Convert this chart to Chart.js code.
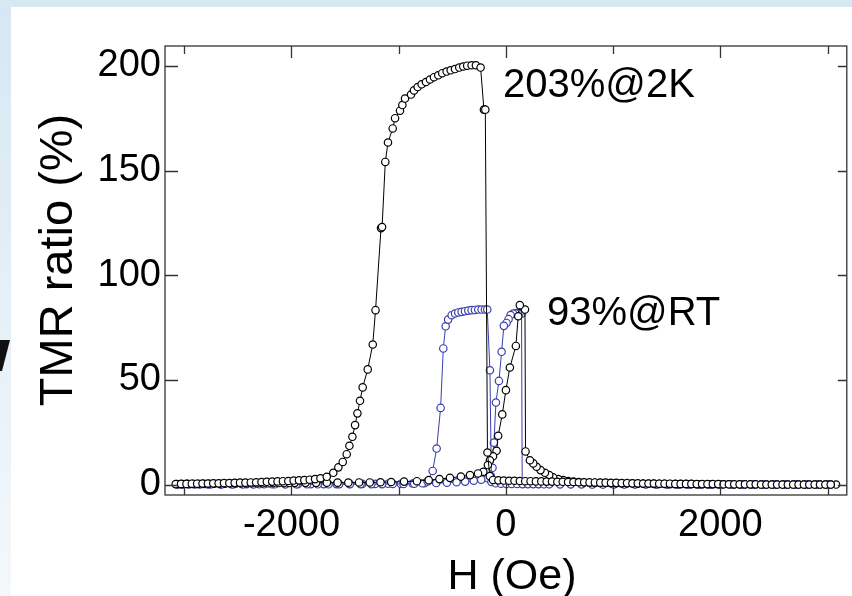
<!DOCTYPE html>
<html>
<head>
<meta charset="utf-8">
<script src="https://cdn.jsdelivr.net/npm/chart.js@4/dist/chart.umd.min.js"></script>
<style>
  html, body { margin: 0; padding: 0; background: #fff; }
  #wrap { width: 852px; height: 596px; position: relative; }
</style>
</head>
<body>
<div id="wrap"><canvas id="c" width="852" height="596"></canvas></div>
<script>
// ---- 2 K, field swept upward (Oe, %) ----
const h2kUp = [-3080,-3030,-2980,-2930,-2880,-2830,-2780,-2730,-2680,-2630,-2580,-2530,-2480,-2430,-2380,-2330,-2280,-2230,-2180,-2130,-2080,-2030,-1980,-1930,-1880,-1830,-1780,-1730,-1671,-1610,-1563,-1522,-1485,-1460,-1432,-1407,-1385,-1361,-1336,-1289,-1242,-1216,-1165,-1155,-1125,-1100,-1056,-1034,-988,-966,-941,-885,-857,-823,-786,-746,-708,-671,-631,-594,-553,-515,-475,-435,-398,-361,-320,-280,-236,-205,-192,-172,-150,-120,-70,-20,30,80,130,180,230,280,330,380,430,480,530,580,630,680,730,780,830,880,930,980,1030,1080,1130,1180,1230,1280,1330,1380,1430,1480,1530,1580,1630,1680,1730,1780,1830,1880,1930,1980,2030,2080,2130,2180,2230,2280,2330,2380,2430,2480,2530,2580,2630,2680,2730,2780,2830,2880,2930,2980,3030,3080];
const tmr2kUp = [0.2,0.3,0.3,0.4,0.4,0.5,0.5,0.6,0.6,0.7,0.7,0.8,0.9,0.9,1.0,1.1,1.2,1.3,1.4,1.5,1.6,1.7,1.9,2.0,2.1,2.3,2.6,3.0,3.7,5.6,8.2,10.8,14.5,18.5,22.8,28.4,34.0,40.0,46.4,55.0,66.9,83.3,122.5,123.0,154.1,163.4,170.1,175.0,178.6,181.3,184.4,186.3,188.3,189.9,191.2,192.3,193.5,194.6,195.5,196.5,197.3,197.9,198.5,199.2,199.7,200.1,200.3,200.3,199.2,179.1,179.1,15.3,4.0,2.2,2.0,1.9,1.8,1.8,1.7,1.6,1.6,1.5,1.5,1.4,1.4,1.3,1.3,1.2,1.2,1.1,1.1,1.0,1.0,0.9,0.9,0.8,0.8,0.7,0.7,0.6,0.6,0.5,0.5,0.5,0.4,0.4,0.4,0.3,0.3,0.3,0.3,0.2,0.2,0.2,0.2,0.2,0.1,0.1,0.1,0.1,0.1,0.1,0.1,0.0,0.0,0.0,0.0,0.0,0.0,0.0,0.0,0.0,0.0,0.0,0.0,0.0,0.0];

// ---- 2 K, field swept downward ----
const h2kDown = [3080,3030,2980,2930,2880,2830,2780,2730,2680,2630,2580,2530,2480,2430,2380,2330,2280,2230,2180,2130,2080,2030,1980,1930,1880,1830,1780,1730,1680,1630,1580,1530,1480,1430,1380,1330,1280,1230,1180,1130,1080,1030,980,930,880,830,780,730,680,630,580,534,488,441,404,364,323,286,255,224,183,178,130,115,93,37,0,-34,-72,-87,-120,-149,-168,-211,-260,-335,-420,-522,-620,-720,-830,-950,-1070,-1170,-1270,-1370,-1470,-1570,-1670,-1770,-1870,-1970,-2020,-2070,-2120,-2170,-2220,-2270,-2320,-2370,-2420,-2470,-2520,-2570,-2620,-2670,-2720,-2770,-2820,-2870,-2920,-2970,-3020,-3070];
const tmr2kDown = [0.0,0.0,0.0,0.0,0.0,0.0,0.0,0.0,0.0,0.0,0.0,0.0,0.0,0.0,0.0,0.0,0.0,0.0,0.0,0.0,0.1,0.1,0.1,0.1,0.1,0.1,0.1,0.2,0.2,0.2,0.2,0.2,0.3,0.3,0.3,0.4,0.4,0.4,0.5,0.5,0.5,0.6,0.6,0.7,0.7,0.8,0.9,1.0,1.2,1.4,1.7,2.1,2.6,3.4,4.5,5.6,6.9,8.5,10.1,11.6,15.8,83.6,85.7,80.4,66.2,55.9,45.1,33.5,23.3,16.1,13.5,11.6,9.3,6.1,5.3,4.5,3.8,3.2,2.6,2.1,1.6,1.4,1.2,1.1,1.0,1.0,0.9,0.9,0.9,0.8,0.8,0.8,0.7,0.7,0.7,0.7,0.6,0.6,0.6,0.6,0.5,0.5,0.5,0.5,0.4,0.4,0.4,0.4,0.3,0.3,0.3,0.3,0.2,0.2];

// ---- room temperature, field swept upward ----
const hRtUp = [-3055,-2955,-2855,-2755,-2655,-2555,-2455,-2355,-2255,-2155,-2055,-1955,-1855,-1755,-1655,-1555,-1455,-1355,-1255,-1155,-1055,-955,-855,-780,-730,-683,-646,-609,-584,-562,-539,-506,-475,-444,-413,-382,-351,-320,-289,-258,-227,-196,-174,-149,-135,-95,-45,5,55,105,155,205,255,305,355,405,505,605,705,805,905,1005,1105,1205,1305,1405,1505,1605,1705,1805,1905,2005,2105,2205,2305,2405,2505,2605,2705,2805,2905,3005];
const tmrRtUp = [0.0,0.0,0.0,0.0,0.0,0.0,0.0,0.0,0.1,0.1,0.1,0.1,0.1,0.1,0.1,0.2,0.2,0.2,0.2,0.2,0.3,0.3,0.4,0.6,1.5,6.5,17.2,36.6,65.0,75.6,78.8,80.9,81.7,82.2,82.5,82.8,83.1,83.3,83.4,83.6,83.6,83.6,83.6,54.6,1.2,0.6,0.4,0.3,0.3,0.3,0.2,0.2,0.2,0.2,0.1,0.1,0.1,0.1,0.1,0.0,0.0,0.0,0.0,0.0,0.0,0.0,0.0,0.0,0.0,0.0,0.0,0.0,0.0,0.0,0.0,0.0,0.0,0.0,0.0,0.0,0.0,0.0];

// ---- room temperature, field swept downward ----
const hRtDown = [3005,2905,2805,2705,2605,2505,2405,2305,2205,2105,2005,1905,1805,1705,1605,1505,1405,1305,1205,1105,1005,905,805,705,605,505,405,305,205,152,146,128,110,90,68,44,25,6,-19,-40,-65,-93,-112,-125,-140,-170,-230,-300,-380,-460,-550,-650,-760,-870,-980,-1100,-1220,-1340,-1460,-1580,-1700,-1820,-1940,-2060,-2180,-2300,-2420,-2540,-2660,-2780,-2900,-3020];
const tmrRtDown = [0.0,0.0,0.0,0.0,0.0,0.0,0.0,0.0,0.0,0.0,0.0,0.0,0.0,0.0,0.0,0.0,0.0,0.1,0.1,0.1,0.1,0.1,0.1,0.2,0.2,0.2,0.3,0.3,0.4,0.5,81.6,82.0,82.0,81.8,81.7,81.0,79.0,77.2,75.8,63.4,49.5,39.2,20.0,8.0,4.0,3.0,2.3,1.8,1.4,1.1,0.9,0.7,0.6,0.5,0.4,0.4,0.3,0.3,0.3,0.2,0.2,0.2,0.2,0.1,0.1,0.1,0.1,0.1,0.0,0.0,0.0,0.0];

// ---- axis ticks ----
const xTickValues = [-3000, -2000, -1000, 0, 1000, 2000, 3000];
const xTickLabels = ['', '-2000', '', '0', '', '2000', ''];
const yTickValues = [0, 50, 100, 150, 200];
const yTickLabels = ['0', '50', '100', '150', '200'];

const FONT = '"Liberation Sans", Arial, Helvetica, sans-serif';
const BLACK = '#000000';
const BLUE = '#3b3fae';

function points(hs, ts) { return hs.map((h, i) => ({ x: h, y: ts[i] })); }

function series(label, hs, ts, color, order) {
  return {
    label, data: points(hs, ts), showLine: true, order,
    borderColor: color, borderWidth: 1,
    pointRadius: 3.7, pointBorderWidth: 1.2,
    pointBackgroundColor: '#ffffff', pointBorderColor: color,
    pointStyle: 'circle'
  };
}

// Page background, outer frame ticks, titles and notes
const decor = {
  id: 'decor',
  beforeDraw(chart) {
    const ctx = chart.ctx;
    ctx.save();
    ctx.fillStyle = '#ffffff';
    ctx.fillRect(0, 0, 852, 596);
    const g = ctx.createLinearGradient(0, 0, 0, 596);
    g.addColorStop(0, '#d6e7f3');
    g.addColorStop(1, '#f4f8fb');
    ctx.fillStyle = g;
    ctx.fillRect(0, 0, 11, 596);
    ctx.fillStyle = '#d8e8f3';
    ctx.fillRect(0, 0, 852, 7);
    ctx.fillStyle = '#111';
    ctx.beginPath();
    ctx.moveTo(0, 340); ctx.lineTo(10, 340); ctx.lineTo(2, 371); ctx.lineTo(0, 371);
    ctx.closePath(); ctx.fill();
    ctx.restore();
  },
  afterDatasetsDraw(chart) {
    const ctx = chart.ctx, a = chart.chartArea;
    const xs = chart.scales.x, ys = chart.scales.y;
    ctx.save();
    ctx.strokeStyle = '#333';
    ctx.lineWidth = 1.3;
    ctx.strokeRect(a.left, a.top, a.right - a.left, a.bottom - a.top);
    ctx.beginPath();
    xTickValues.forEach((v, i) => {
      const px = Math.round(xs.getPixelForValue(v)) + 0.5;
      const len = xTickLabels[i] ? 12 : 8;
      ctx.moveTo(px, a.bottom); ctx.lineTo(px, a.bottom - len);
      ctx.moveTo(px, a.top); ctx.lineTo(px, a.top + len);
    });
    yTickValues.forEach(v => {
      const py = Math.round(ys.getPixelForValue(v)) + 0.5;
      ctx.moveTo(a.left, py); ctx.lineTo(a.left + 13, py);
      ctx.moveTo(a.right, py); ctx.lineTo(a.right - 9, py);
    });
    ctx.stroke();
    ctx.restore();
  },
  afterDraw(chart) {
    const ctx = chart.ctx;
    ctx.save();
    ctx.fillStyle = '#000';
    ctx.textBaseline = 'alphabetic';
    ctx.font = '43px ' + FONT;
    ctx.textAlign = 'center';
    ctx.fillText('H (Oe)', 512, 589);
    ctx.save();
    ctx.translate(72, 260);
    ctx.rotate(-Math.PI / 2);
    ctx.font = '47px ' + FONT;
    ctx.fillText('TMR ratio (%)', 0, 0);
    ctx.restore();
    ctx.textAlign = 'left';
    ctx.font = '40px ' + FONT;
    ctx.fillText('203%@2K', 503, 97);
    ctx.fillText('93%@RT', 547, 325);
    ctx.restore();
  }
};

new Chart(document.getElementById('c'), {
  type: 'scatter',
  data: {
    datasets: [
      series('2K up', h2kUp, tmr2kUp, BLACK, 1),
      series('2K down', h2kDown, tmr2kDown, BLACK, 2),
      series('RT up', hRtUp, tmrRtUp, BLUE, 3),
      series('RT down', hRtDown, tmrRtDown, BLUE, 4)
    ]
  },
  options: {
    responsive: false,
    animation: false,
    devicePixelRatio: 1,
    layout: { padding: { top: 46, right: 5, left: 0, bottom: 0 } },
    plugins: { legend: { display: false }, tooltip: { enabled: false } },
    scales: {
      x: {
        type: 'linear', min: -3180, max: 3180,
        afterBuildTicks: s => { s.ticks = xTickValues.map(v => ({ value: v })); },
        afterFit: s => { s.height = 101; },
        grid: { display: false, drawTicks: false },
        border: { display: false },
        ticks: {
          autoSkip: false, maxRotation: 0, padding: 8, color: '#000',
          font: { family: FONT, size: 38 },
          callback: (v, i) => xTickLabels[i]
        }
      },
      y: {
        type: 'linear', min: -5, max: 209.5,
        afterBuildTicks: s => { s.ticks = yTickValues.map(v => ({ value: v })); },
        afterFit: s => { s.width = 165; },
        grid: { display: false, drawTicks: false },
        border: { display: false },
        ticks: {
          autoSkip: false, padding: 4, color: '#000',
          font: { family: FONT, size: 38 },
          callback: (v, i) => yTickLabels[i]
        }
      }
    }
  },
  plugins: [decor]
});
</script>
</body>
</html>
